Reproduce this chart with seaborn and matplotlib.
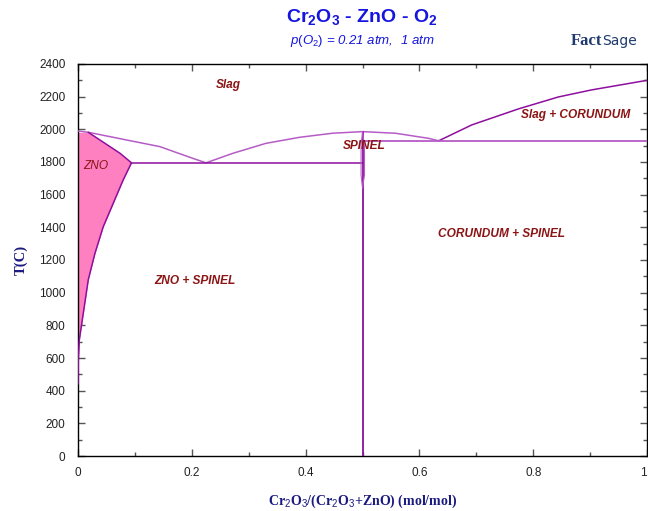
import numpy as np
import pandas as pd
import matplotlib
matplotlib.use("Agg")
import matplotlib.pyplot as plt
import seaborn as sns
from matplotlib.ticker import MultipleLocator

# ---- data ----
liq_left_x = [0.0, 0.018, 0.085, 0.144, 0.202, 0.225]
liq_left_T = [1990, 1982, 1935, 1894, 1822, 1795]

liq_mid_x = [0.225, 0.272, 0.330, 0.389, 0.447, 0.500, 0.558, 0.616, 0.634]
liq_mid_T = [1795, 1853, 1914, 1951, 1976, 1986, 1976, 1945, 1930]

liq_right_x = [0.634, 0.692, 0.774, 0.844, 0.902, 1.0]
liq_right_T = [1930, 2027, 2125, 2198, 2241, 2300]

zno_x = [0.018, 0.074, 0.094, 0.0794, 0.0619, 0.0444, 0.0298, 0.018, 0.0093, 0.0023, 0.0005, 0.0]
zno_T = [1982, 1853, 1795, 1690, 1547, 1404, 1241, 1078, 874, 710, 588, 440]

eut_left_x = [0.094, 0.500]
eut_left_T = [1795, 1795]
eut_right_x = [0.505, 1.0]
eut_right_T = [1930, 1930]

spinel_x = [0.500, 0.500]
spinel_T = [0, 1986]
lens_left_x = [0.500, 0.4975, 0.4975, 0.500]
lens_left_T = [1986, 1900, 1720, 1640]
lens_right_x = [0.500, 0.5035, 0.5035, 0.500]
lens_right_T = [1986, 1900, 1720, 1640]

labels = ["Slag", "ZNO + SPINEL", "SPINEL", "CORUNDUM + SPINEL", "Slag + CORUNDUM"]
label_x = [0.264, 0.205, 0.503, 0.744, 0.874]
label_T = [2272, 1071, 1898, 1359, 2088]

xticks = [0, 0.2, 0.4, 0.6, 0.8, 1]
xticklabels = ["0", "0.2", "0.4", "0.6", "0.8", "1"]
yticks = list(range(0, 2401, 200))

# ---- style ----
sns.set_style("ticks")
plt.rcParams["font.family"] = ["Liberation Sans", "DejaVu Sans"]
plt.rcParams["mathtext.fontset"] = "custom"
plt.rcParams["mathtext.rm"] = "Liberation Sans"
plt.rcParams["mathtext.it"] = "Liberation Sans:italic"
plt.rcParams["mathtext.bf"] = "Liberation Sans:bold"

fig = plt.figure(figsize=(6.48, 5.11), dpi=100)
ax = fig.add_axes([78/648, 55/511, 569/648, 392/511])

line_dark = "#8E0F9E"
line_light = "#B65CC6"
pink = "#FF80C0"

# fill ZnO solid solution
ax.fill_betweenx(zno_T, 0, zno_x, color=pink, lw=0, zorder=1)

def draw(x, y, color, lw=1.1, z=3):
    df = pd.DataFrame({"x": x, "y": y})
    sns.lineplot(data=df, x="x", y="y", sort=False, estimator=None,
                 color=color, lw=lw, ax=ax, zorder=z)

draw(liq_left_x, liq_left_T, line_light)
draw(liq_mid_x, liq_mid_T, line_light)
draw(liq_right_x, liq_right_T, line_dark)
draw(zno_x, zno_T, line_dark)
draw(eut_left_x, eut_left_T, line_dark)
draw(eut_right_x, eut_right_T, line_light, lw=1.3)
draw(spinel_x, spinel_T, line_dark, lw=1.3)
draw(lens_left_x, lens_left_T, line_light, lw=0.8)
draw(lens_right_x, lens_right_T, line_light, lw=0.8)

label_color = "#8B1414"
for t, x, y in zip(labels, label_x, label_T):
    ax.text(x, y, t, ha="center", va="center", fontsize=8.6,
            fontweight="bold", fontstyle="italic", color=label_color, zorder=5)
ax.text(0.009, 1776, "ZNO", ha="left", va="center", fontsize=8.6,
        fontstyle="italic", color=label_color, zorder=5)

ax.set_xlim(0, 1)
ax.set_ylim(0, 2400)
ax.set_xticks(xticks)
ax.set_xticklabels(xticklabels)
ax.set_yticks(yticks)
ax.xaxis.set_minor_locator(MultipleLocator(0.1))
ax.yaxis.set_minor_locator(MultipleLocator(100))
ax.tick_params(which="both", direction="in", top=True, right=True,
               color="#555555", labelsize=8.5, labelcolor="#222222")
ax.tick_params(which="major", length=5, width=1)
ax.tick_params(which="minor", length=3, width=1)
ax.tick_params(axis="x", pad=8)
ax.tick_params(axis="y", pad=9)
for s in ax.spines.values():
    s.set_color("black")
    s.set_linewidth(1.0)
# last x tick label sits at the figure edge; anchor it so it stays visible
ax.get_xticklabels()[-1].set_horizontalalignment("right")

ax.set_xlabel(r"Cr$_2$O$_3$/(Cr$_2$O$_3$+ZnO) (mol/mol)", family="Liberation Serif",
              fontweight="bold", fontsize=10, color="#1A1A80", labelpad=10)
ax.set_ylabel("T(C)", family="Liberation Serif", fontweight="bold",
              fontsize=10.5, color="#1A1A80", labelpad=8)

fig.text(362/648, 1 - 17/511, r"$\mathbf{Cr_2O_3}$ - ZnO - $\mathbf{O_2}$",
         ha="center", va="center", fontsize=14, fontweight="bold", color="#1515E0")
fig.text(362/648, 1 - 41/511, r"$\mathit{p(O_2)}$ = 0.21 atm,  1 atm",
         ha="center", va="center", fontsize=9.5, fontstyle="italic", color="#1515E0")
fig.text(602/648, 1 - 41/511, "Fact", ha="right", va="center", fontsize=12,
         fontweight="bold", color="#1F3A6E", family="Liberation Serif")
fig.text(602/648, 1 - 41/511, "Sage", ha="left", va="center", fontsize=10,
         color="#1F3A6E", family="Liberation Sans Narrow")

fig.savefig("out.png", dpi=100)
